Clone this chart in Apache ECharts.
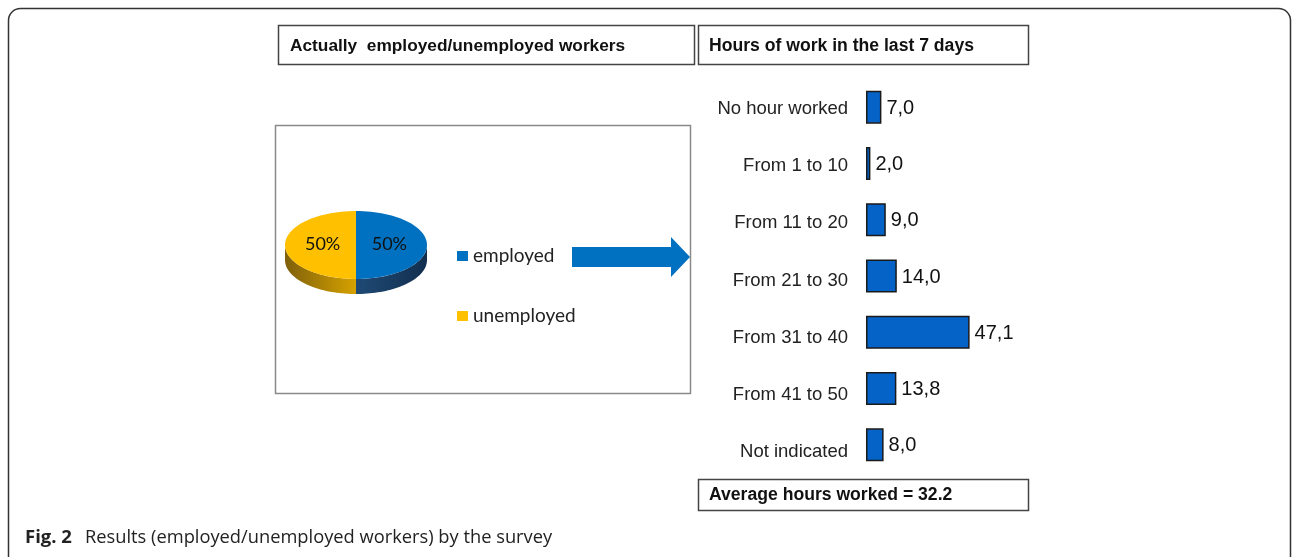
<!DOCTYPE html>
<html>
<head>
<meta charset="utf-8">
<script src="https://cdn.jsdelivr.net/npm/echarts@6/dist/echarts.min.js"></script>
<style>
  html, body { margin: 0; padding: 0; background: #fff; }
  #chart { width: 1292px; height: 557px; }
</style>
</head>
<body>
<div id="chart"></div>
<script>
// ---- data ----
var pieCategories = ['employed', 'unemployed'];
var pieValues = [50, 50];
var pieColors = ['#0070C0', '#FFC000'];
var hourCategories = ['No hour worked', 'From 1 to 10', 'From 11 to 20', 'From 21 to 30', 'From 31 to 40', 'From 41 to 50', 'Not indicated'];
var hourValues = [7.0, 2.0, 9.0, 14.0, 47.1, 13.8, 8.0];
var averageHours = 32.2;
var leftTitle = 'Actually  employed/unemployed workers';
var rightTitle = 'Hours of work in the last 7 days';
var captionBold = 'Fig. 2';
var captionText = 'Results (employed/unemployed workers) by the survey';

var chart = echarts.init(document.getElementById('chart'), null, { renderer: 'canvas' });

// pie geometry
var PCX = 356, PCY = 245, PRX = 71, PRY = 34, PDEPTH = 15;
var sideColors = [
  ['#1f4a75', '#122f4f'],
  ['#7f600a', '#d6a200']
];
var pieTotal = pieValues.reduce(function (a, b) { return a + b; }, 0);

function rimPoint(a, dy) {
  return [PCX + PRX * Math.cos(a), PCY + PRY * Math.sin(a) + (dy || 0)];
}

function renderPie(params, api) {
  var i = params.dataIndex;
  var v = api.value(0);
  var before = 0;
  for (var k = 0; k < i; k++) before += pieValues[k];
  var a1 = -Math.PI / 2 + before / pieTotal * Math.PI * 2;
  var a2 = a1 + v / pieTotal * Math.PI * 2;
  var children = [];
  var s = Math.max(a1, 0), e = Math.min(a2, Math.PI);
  if (e > s) {
    var pts = [];
    var n = 40;
    for (var j = 0; j <= n; j++) pts.push(rimPoint(s + (e - s) * j / n, 0));
    for (var j2 = n; j2 >= 0; j2--) pts.push(rimPoint(s + (e - s) * j2 / n, PDEPTH));
    children.push({
      type: 'polygon',
      shape: { points: pts },
      style: {
        fill: new echarts.graphic.LinearGradient(0, 0, 1, 0, [
          { offset: 0, color: sideColors[i][0] },
          { offset: 1, color: sideColors[i][1] }
        ]),
        stroke: null
      }
    });
  }
  var top = [[PCX, PCY]];
  var m = 60;
  for (var t = 0; t <= m; t++) top.push(rimPoint(a1 + (a2 - a1) * t / m, 0));
  children.push({
    type: 'polygon',
    shape: { points: top },
    style: { fill: pieColors[i], stroke: null }
  });
  var mid = (a1 + a2) / 2;
  children.push({
    type: 'text',
    style: {
      text: Math.round(v / pieTotal * 100) + '%',
      x: PCX + PRX * 0.47 * Math.cos(mid),
      y: PCY + PRY * 0.47 * Math.sin(mid) - 1,
      align: 'center',
      verticalAlign: 'middle',
      font: '18px Lato',
      fill: '#111'
    }
  });
  return { type: 'group', children: children };
}

var graphics = [
  { type: 'rect', z: 0, shape: { x: 8.5, y: 8.5, width: 1282, height: 565, r: 12 },
    style: { fill: 'none', stroke: '#333', lineWidth: 1.5 } },
  { type: 'rect', shape: { x: 278.5, y: 25.5, width: 416, height: 39 },
    style: { fill: 'none', stroke: '#444', lineWidth: 1.5 } },
  { type: 'text', style: { text: leftTitle, x: 290, y: 46, verticalAlign: 'middle', font: 'bold 17.3px "Liberation Sans"', fill: '#111' } },
  { type: 'rect', shape: { x: 698.5, y: 25.5, width: 330, height: 39 },
    style: { fill: 'none', stroke: '#444', lineWidth: 1.5 } },
  { type: 'text', style: { text: rightTitle, x: 709, y: 46, verticalAlign: 'middle', font: 'bold 17.6px "Liberation Sans"', fill: '#111' } },
  { type: 'rect', shape: { x: 698.5, y: 479.5, width: 330, height: 31 },
    style: { fill: 'none', stroke: '#444', lineWidth: 1.5 } },
  { type: 'text', style: { text: 'Average hours worked = ' + averageHours.toFixed(1), x: 709, y: 495.5, verticalAlign: 'middle', font: 'bold 17.6px "Liberation Sans"', fill: '#111' } },
  { type: 'rect', shape: { x: 275.5, y: 125.5, width: 415, height: 268 },
    style: { fill: 'none', stroke: '#8a8a8a', lineWidth: 1.5 } },
  { type: 'polygon', shape: { points: [[572, 247], [671, 247], [671, 237], [690, 257], [671, 277], [671, 267], [572, 267]] },
    style: { fill: '#0070C0' } },
  { type: 'text', style: { text: captionBold, x: 25, y: 538, verticalAlign: 'middle', font: 'bold 18.5px "Open Sans"', fill: '#222' } },
  { type: 'text', style: { text: captionText, x: 85, y: 538, verticalAlign: 'middle', font: '18.3px "Open Sans"', fill: '#222' } }
];
pieCategories.forEach(function (name, i) {
  var y = 256 + i * 60;
  graphics.push({ type: 'rect', shape: { x: 457, y: y - 5, width: 11, height: 10 }, style: { fill: pieColors[i] } });
  graphics.push({ type: 'text', style: { text: name, x: 473, y: y, verticalAlign: 'middle', font: '19px Lato', fill: '#222' } });
});

var option = {
  animation: false,
  backgroundColor: '#fff',
  graphic: graphics,
  grid: [
    { left: 866, width: 110, top: 79, height: 394, containLabel: false },
    { left: 866, width: 110, top: 80.5, height: 400, containLabel: false }
  ],
  xAxis: [
    { type: 'value', min: 0, max: 50, show: false, gridIndex: 0 },
    { type: 'value', min: 0, max: 50, show: false, gridIndex: 1 }
  ],
  yAxis: [
    {
      type: 'category', gridIndex: 0,
      data: hourCategories,
      inverse: true,
      axisLine: { show: false }, axisTick: { show: false }, splitLine: { show: false },
      axisLabel: { show: false }
    },
    {
      type: 'category', gridIndex: 1,
      data: hourCategories,
      inverse: true,
      axisLine: { show: false }, axisTick: { show: false }, splitLine: { show: false },
      axisLabel: { margin: 18, fontSize: 18.5, fontFamily: 'Liberation Sans', color: '#222' }
    }
  ],
  series: [
    {
      type: 'bar',
      xAxisIndex: 0, yAxisIndex: 0,
      data: hourValues,
      barWidth: 33,
      itemStyle: { color: '#0563C8', borderColor: '#1a1a1a', borderWidth: 1.5 },
      label: {
        show: true,
        position: 'right',
        distance: 5,
        fontSize: 20,
        fontFamily: 'Liberation Sans',
        color: '#111',
        offset: [0, 1],
        formatter: function (p) { return p.value.toFixed(1).replace('.', ','); }
      }
    },
    {
      type: 'custom',
      coordinateSystem: 'none',
      data: pieValues.map(function (v, i) { return { name: pieCategories[i], value: [v] }; }),
      renderItem: renderPie
    }
  ]
};
chart.setOption(option);
</script>
</body>
</html>
